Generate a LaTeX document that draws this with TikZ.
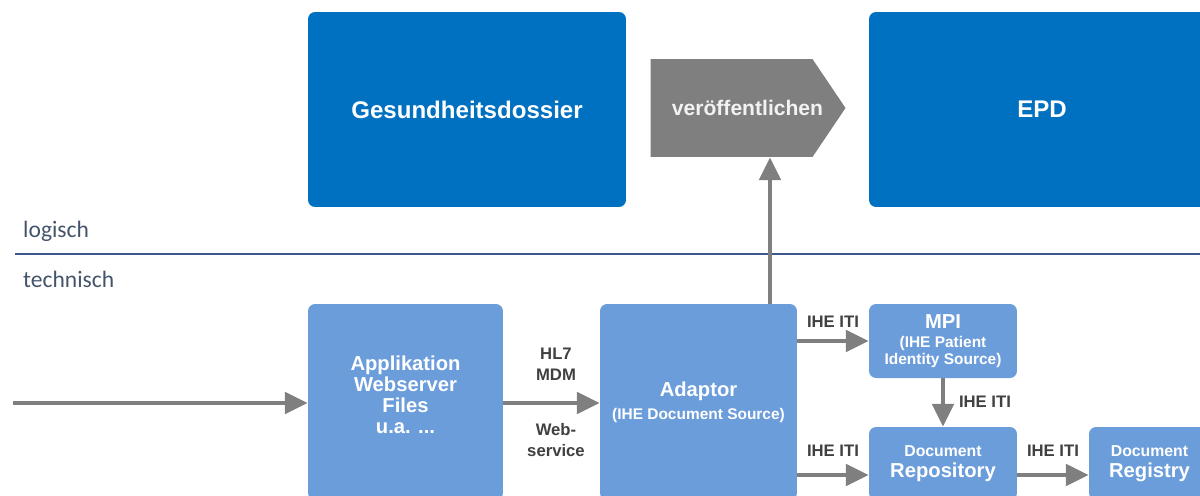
\documentclass[tikz,border=0pt]{standalone}
\usepackage{fontspec}
\setmainfont{Liberation Sans}
\newfontfamily\calib{Carlito}
\usepackage{tikz}
\usetikzlibrary{arrows.meta,positioning,shapes.symbols}

\definecolor{darkblue}{RGB}{0,112,192}
\definecolor{lightblue}{RGB}{108,157,219}
\definecolor{arrowgray}{RGB}{127,127,127}
\definecolor{labelgray}{RGB}{64,64,64}
\definecolor{sepblue}{RGB}{59,90,140}
\definecolor{layertext}{RGB}{68,84,106}

\newcommand{\subfont}{\fontsize{8.8}{9.8}\selectfont}

\begin{document}
\begin{tikzpicture}[x=0.02cm,y=-0.02cm,
    bigbox/.style={rectangle,rounded corners=4pt,fill=darkblue,text=white,
      font=\bfseries\fontsize{13.7}{15}\selectfont,align=center},
    techbox/.style={rectangle,rounded corners=4pt,fill=lightblue,text=white,
      font=\bfseries\fontsize{11.5}{12}\selectfont,align=center,inner sep=2pt},
    techtext/.style={text=white,font=\bfseries\fontsize{11.5}{12}\selectfont,align=center},
    lbl/.style={text=labelgray,font=\bfseries\fontsize{9.5}{12}\selectfont,align=center},
    layer/.style={anchor=west,text=layertext,font=\calib\fontsize{13.4}{15}\selectfont},
    arr/.style={draw=arrowgray,line width=2.8pt,-{Triangle[length=13pt,width=12pt]}}]
  \useasboundingbox (0,0) rectangle (1200,495);
  \clip (0,0) rectangle (1200,495);

  % logical layer
  \node[bigbox,minimum width=6.36cm,minimum height=3.9cm] (dossier) at (467,109.5) {Gesundheitsdossier};
  \node[bigbox,minimum width=6.92cm,minimum height=3.9cm] (epd) at (1042,109.5) {EPD};
  \node[signal,signal to=east,signal pointer angle=112,fill=arrowgray,
    minimum width=3.9cm,minimum height=1.96cm,inner sep=0pt] (pub) at (731.5,108) {};
  \node[text={white!95!black},font=\bfseries\fontsize{12}{14}\selectfont] (pubtext) at (747.5,108) {veröffentlichen};

  % separator
  \coordinate (sepl) at (15,254);
  \coordinate (sepr) at (1200,254);
  \draw[sepblue,line width=1.1pt] (sepl) -- (sepr);
  \node[layer] (logisch) at (17,231) {logisch};
  \node[layer] (technisch) at (17,279) {technisch};

  % technical layer
  \node[techbox,minimum width=3.9cm,minimum height=3.92cm] (app) at (405.5,402) {};
  \node[techtext] (apptext) at (405.5,395) {Applikation\\Webserver\\Files\\u.a. ...};
  \node[techbox,minimum width=3.94cm,minimum height=3.92cm] (adap) at (698.5,402)
    {Adaptor\\[1pt]\subfont (IHE Document Source)};
  \node[techbox,minimum width=2.96cm,minimum height=1.48cm] (mpi) at (943,341)
    {MPI\\[-1pt]{\subfont (IHE Patient}\\[-2.5pt]{\subfont Identity Source)}};
  \node[techbox,minimum width=2.96cm,minimum height=1.46cm] (rep) at (943,463.5)
    {{\fontsize{9}{12}\selectfont Document}\\Repository};
  \node[techbox,minimum width=2.42cm,minimum height=1.46cm] (reg) at (1149.5,463.5)
    {{\fontsize{9}{12}\selectfont Document}\\Registry};

  % connectors
  \coordinate (in) at (13,403);
  \draw[arr] (in) -- (in -| app.west);
  \draw[arr] (app.east |- in) -- (adap.west |- in);
  \draw[arr] ([xshift=0.77cm]pub.south |- adap.north) -- ([xshift=0.77cm]pub.south);
  \draw[arr] (adap.east |- mpi.west) -- (mpi.west);
  \draw[arr] ([yshift=-0.23cm]adap.east |- rep.west) -- ([yshift=-0.23cm]rep.west);
  \draw[arr] (mpi.south) -- (rep.north);
  \draw[arr] ([yshift=-0.23cm]rep.east) -- ([yshift=-0.23cm]reg.west);

  % connector labels
  \node[lbl] (hl7) at (556,364) {HL7\\MDM};
  \node[lbl] (ws) at (556,440) {Web-\\service};
  \node[lbl] (iti1) at (833,322) {IHE ITI};
  \node[lbl] (iti2) at (833,451) {IHE ITI};
  \node[lbl] (iti3) at (985,402) {IHE ITI};
  \node[lbl] (iti4) at (1053,451) {IHE ITI};
\end{tikzpicture}
\end{document}
